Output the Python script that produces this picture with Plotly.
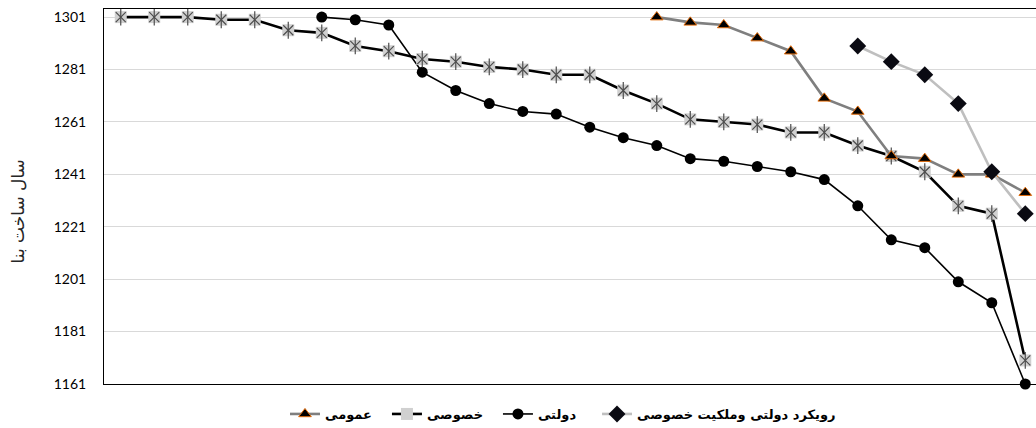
import plotly.graph_objects as go

# ---- data ----
categories = list(range(28))

khosousi = [1301, 1301, 1301, 1300, 1300, 1296, 1295, 1290, 1288, 1285, 1284, 1282,
            1281, 1279, 1279, 1273, 1268, 1262, 1261, 1260, 1257, 1257, 1252, 1248,
            1242, 1229, 1226, 1170]

dowlati = [None, None, None, None, None, None, 1301, 1300, 1298, 1280, 1273, 1268,
           1265, 1264, 1259, 1255, 1252, 1247, 1246, 1244, 1242, 1239, 1229, 1216,
           1213, 1200, 1192, 1161]

omoomi = [None] * 16 + [1301, 1299, 1298, 1293, 1288, 1270, 1265, 1248, 1247, 1241, 1241, 1234]

rooykard = [None] * 22 + [1290, 1284, 1279, 1268, 1242, 1226]

ytick_vals = [1161, 1181, 1201, 1221, 1241, 1261, 1281, 1301]

names = {
    "omoomi": "عمومی",
    "khosousi": "خصوصی",
    "dowlati": "دولتی",
    "rooykard": "رویکرد دولتی وملکیت خصوصی",
}
y_title = "سال ساخت بنا"

fig = go.Figure()

# دولتی
fig.add_trace(go.Scatter(
    x=categories, y=dowlati, name=names["dowlati"], mode="lines+markers",
    line=dict(color="#000000", width=1.6),
    marker=dict(symbol="circle", size=11, color="#000000"),
    legend="legend3", cliponaxis=False,
))

# خصوصی (line + square background)
fig.add_trace(go.Scatter(
    x=categories, y=khosousi, name=names["khosousi"], mode="lines+markers",
    line=dict(color="#000000", width=2.6),
    marker=dict(symbol="square", size=12, color="#d0d0d0", line=dict(width=0)),
    legend="legend2", cliponaxis=False,
))
fig.add_trace(go.Scatter(
    x=categories, y=khosousi, mode="markers", showlegend=False, hoverinfo="skip",
    marker=dict(symbol="x-thin-open", size=10, color="#4d4d4d", line=dict(width=1.2, color="#4d4d4d")),
    cliponaxis=False,
))
fig.add_trace(go.Scatter(
    x=categories, y=khosousi, mode="markers", showlegend=False, hoverinfo="skip",
    marker=dict(symbol="line-ns-open", size=12, color="#4d4d4d", line=dict(width=1.2, color="#4d4d4d")),
    cliponaxis=False,
))

# عمومی
fig.add_trace(go.Scatter(
    x=categories, y=omoomi, name=names["omoomi"], mode="lines+markers",
    line=dict(color="#7f7f7f", width=2.6),
    marker=dict(symbol="triangle-up", size=11, color="#000000",
                line=dict(width=1, color="#e46c0a")),
    legend="legend", cliponaxis=False,
))

# رویکرد دولتی وملکیت خصوصی
fig.add_trace(go.Scatter(
    x=categories, y=rooykard, name=names["rooykard"], mode="lines+markers",
    line=dict(color="#bfbfbf", width=2.6),
    marker=dict(symbol="diamond", size=13, color="#0a0a12"),
    legend="legend4", cliponaxis=False,
))

legend_font = dict(family="DejaVu Sans", size=13, color="#000000", weight="bold")


def leg(xpos):
    return dict(
        orientation="h", x=xpos, xanchor="left", y=-0.04, yanchor="top",
        font=legend_font, itemwidth=30, bgcolor="rgba(0,0,0,0)",
    )


fig.update_layout(
    width=1036, height=428,
    margin=dict(l=104, r=0, t=9, b=44, autoexpand=False),
    paper_bgcolor="white", plot_bgcolor="white",
    showlegend=True,
    legend=leg(0.1942),
    legend2=leg(0.3036),
    legend3=leg(0.4227),
    legend4=leg(0.5290),
    xaxis=dict(
        range=[-0.5, 27.32], showticklabels=False, showgrid=False, zeroline=False,
        showline=True, linecolor="#000000", linewidth=1, mirror=True, ticks="",
        automargin=False,
    ),
    yaxis=dict(
        range=[1161, 1304.1], tickvals=ytick_vals, ticktext=[str(v) for v in ytick_vals],
        showgrid=True, gridcolor="#d9d9d9", gridwidth=1, zeroline=False,
        showline=True, linecolor="#000000", linewidth=1, ticks="",
        tickfont=dict(family="Lato", size=14, color="#000000"),
        ticklabelstandoff=14, automargin=False,
    ),
    annotations=[dict(
        text=y_title, xref="paper", yref="paper", x=-0.092, y=0.461,
        xanchor="center", yanchor="middle", textangle=-90, showarrow=False,
        font=dict(family="DejaVu Sans", size=17, color="#262626"),
    )],
)

fig.write_html(
    "out.html",
    config={"displayModeBar": False},
    post_script="document.body.style.margin='0';document.body.style.overflow='hidden';",
)
